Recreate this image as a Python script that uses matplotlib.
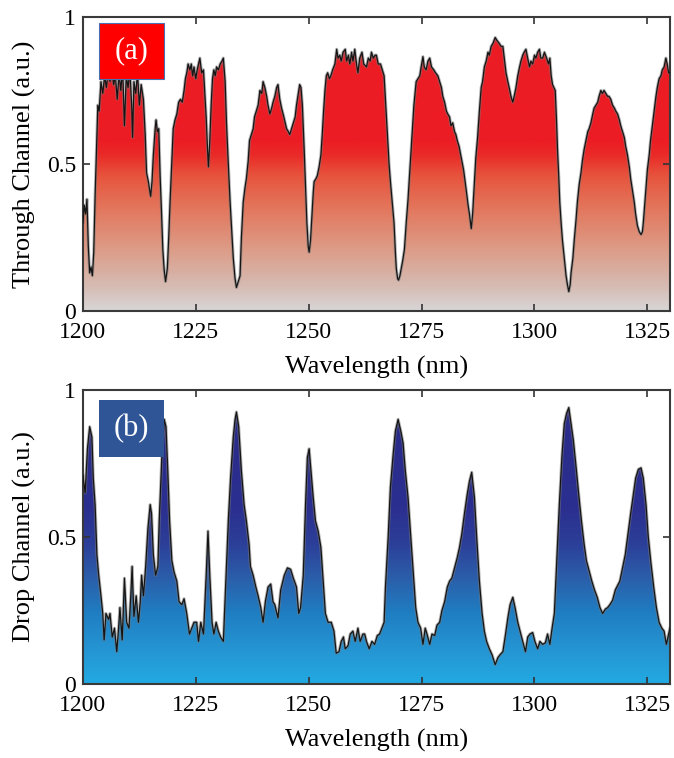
import numpy as np
import matplotlib
matplotlib.use("Agg")
import matplotlib.pyplot as plt
from matplotlib.colors import LinearSegmentedColormap
from matplotlib.patches import PathPatch, Rectangle

plt.rcParams['font.family'] = ['Liberation Serif', 'DejaVu Serif']

# ---- Through channel spectrum ----
wl_through = [
    1200.0, 1200.3, 1200.6, 1200.9, 1201.2, 1201.5, 1201.8, 1202.1, 1202.4, 1202.7,
    1203.0, 1203.3, 1203.6, 1204.0, 1204.4, 1204.8, 1205.2, 1205.6, 1206.0, 1206.4,
    1206.8, 1207.2, 1207.6, 1208.0, 1208.4, 1208.8, 1209.2, 1209.6, 1210.0, 1210.4,
    1210.8, 1211.0, 1211.3, 1211.7, 1212.1, 1212.5, 1212.9, 1213.4, 1213.8, 1214.1,
    1214.5, 1215.0, 1215.3, 1215.6, 1216.0, 1216.2, 1216.5, 1216.8, 1217.1, 1217.4,
    1217.7, 1218.0, 1218.3, 1218.7, 1219.0, 1219.3, 1219.6, 1220.0, 1220.4, 1220.8,
    1221.2, 1221.6, 1222.0, 1222.4, 1222.7, 1223.0, 1223.3, 1223.7, 1224.0, 1224.3,
    1224.6, 1225.0, 1225.3, 1225.6, 1225.9, 1226.3, 1226.7, 1227.0, 1227.3, 1227.6,
    1227.8, 1228.1, 1228.4, 1228.7, 1229.0, 1229.3, 1229.6, 1230.0, 1230.4, 1230.8,
    1231.1, 1231.5, 1231.8, 1232.2, 1232.6, 1233.0, 1233.3, 1233.7, 1234.0, 1234.4,
    1234.8, 1235.1, 1235.5, 1235.9, 1236.2, 1236.6, 1236.9, 1237.3, 1237.7, 1238.0,
    1238.4, 1238.8, 1239.2, 1239.6, 1239.9, 1240.3, 1240.7, 1241.0, 1241.4, 1241.8,
    1242.1, 1242.5, 1242.9, 1243.2, 1243.6, 1244.0, 1244.5, 1245.1, 1245.5, 1245.8,
    1246.2, 1246.6, 1247.0, 1247.3, 1247.7, 1248.0, 1248.3, 1248.6, 1249.0, 1249.3,
    1249.6, 1249.9, 1250.1, 1250.4, 1250.7, 1251.0, 1251.2, 1251.6, 1251.9, 1252.3,
    1252.7, 1253.0, 1253.3, 1253.6, 1253.9, 1254.2, 1254.6, 1254.9, 1255.3, 1255.8,
    1256.2, 1256.5, 1256.9, 1257.2, 1257.6, 1258.1, 1258.4, 1258.8, 1259.1, 1259.5,
    1259.8, 1260.2, 1260.6, 1260.9, 1261.3, 1261.8, 1262.2, 1262.8, 1263.2, 1263.6,
    1263.9, 1264.3, 1264.7, 1265.0, 1265.4, 1265.9, 1266.3, 1266.7, 1267.0, 1267.4,
    1267.8, 1268.1, 1268.5, 1268.9, 1269.2, 1269.4, 1269.7, 1269.9, 1270.2, 1270.5,
    1270.8, 1271.2, 1271.6, 1272.0, 1272.4, 1272.9, 1273.3, 1273.8, 1274.2, 1274.6,
    1274.9, 1275.3, 1275.6, 1276.0, 1276.4, 1276.8, 1277.2, 1277.7, 1278.1, 1278.6,
    1279.0, 1279.4, 1279.7, 1280.1, 1280.5, 1280.8, 1281.2, 1281.5, 1281.9, 1282.3,
    1282.6, 1282.9, 1283.3, 1283.8, 1284.3, 1284.9, 1285.3, 1285.6, 1286.0, 1286.3,
    1286.7, 1287.0, 1287.4, 1287.8, 1288.2, 1288.5, 1288.9, 1289.3, 1289.7, 1290.0,
    1290.4, 1290.8, 1291.3, 1291.7, 1292.2, 1292.6, 1293.0, 1293.4, 1293.7, 1294.1,
    1294.4, 1294.8, 1295.2, 1295.5, 1295.9, 1296.3, 1296.7, 1297.0, 1297.4, 1297.7,
    1298.1, 1298.5, 1298.9, 1299.2, 1299.6, 1300.0, 1300.3, 1300.7, 1301.1, 1301.4,
    1301.8, 1302.2, 1302.7, 1303.1, 1303.4, 1303.7, 1304.0, 1304.3, 1304.6, 1304.9,
    1305.1, 1305.4, 1305.6, 1305.9, 1306.2, 1306.6, 1307.0, 1307.3, 1307.6, 1307.9,
    1308.1, 1308.5, 1308.8, 1309.2, 1309.5, 1309.9, 1310.3, 1310.6, 1311.0, 1311.4,
    1311.8, 1312.1, 1312.5, 1312.9, 1313.2, 1313.6, 1314.0, 1314.3, 1314.7, 1315.0,
    1315.4, 1315.8, 1316.2, 1316.5, 1316.9, 1317.3, 1317.7, 1318.0, 1318.4, 1318.8,
    1319.1, 1319.5, 1319.9, 1320.2, 1320.6, 1321.0, 1321.3, 1321.7, 1322.1, 1322.4,
    1322.8, 1323.2, 1323.6, 1323.9, 1324.1, 1324.4, 1324.7, 1325.0, 1325.4, 1325.7,
    1326.1, 1326.5, 1326.9, 1327.2, 1327.6, 1328.0, 1328.3, 1328.7, 1329.1, 1329.4,
    1329.7, 1330.0,
]
through = [
    0.30, 0.36, 0.33, 0.38, 0.22, 0.13, 0.15, 0.12, 0.20, 0.39,
    0.55, 0.70, 0.68, 0.78, 0.74, 0.80, 0.76, 0.82, 0.78, 0.84,
    0.77, 0.80, 0.72, 0.81, 0.75, 0.83, 0.63, 0.80, 0.76, 0.82,
    0.70, 0.59, 0.78, 0.74, 0.81, 0.70, 0.77, 0.72, 0.60, 0.47,
    0.44, 0.39, 0.44, 0.53, 0.62, 0.65, 0.61, 0.62, 0.46, 0.34,
    0.21, 0.14, 0.10, 0.145, 0.25, 0.37, 0.48, 0.62, 0.65, 0.67,
    0.71, 0.72, 0.71, 0.75, 0.79, 0.81, 0.84, 0.82, 0.84, 0.80,
    0.83, 0.79, 0.82, 0.84, 0.86, 0.81, 0.82, 0.74, 0.66, 0.55,
    0.49, 0.58, 0.70, 0.79, 0.82, 0.80, 0.83, 0.82, 0.84, 0.85,
    0.86, 0.78, 0.64, 0.50, 0.37, 0.26, 0.18, 0.11, 0.08, 0.10,
    0.12, 0.25, 0.37, 0.42, 0.45, 0.51, 0.58, 0.60, 0.62, 0.66,
    0.68, 0.70, 0.75, 0.74, 0.78, 0.76, 0.73, 0.70, 0.67, 0.69,
    0.71, 0.73, 0.76, 0.77, 0.72, 0.69, 0.66, 0.62, 0.61, 0.60,
    0.62, 0.64, 0.66, 0.70, 0.74, 0.77, 0.76, 0.70, 0.55, 0.42,
    0.30, 0.22, 0.20, 0.24, 0.32, 0.40, 0.44, 0.45, 0.46, 0.49,
    0.53, 0.60, 0.68, 0.75, 0.80, 0.81, 0.79, 0.80, 0.82, 0.84,
    0.89, 0.86, 0.87, 0.85, 0.88, 0.89, 0.85, 0.87, 0.84, 0.88,
    0.85, 0.89, 0.84, 0.81, 0.86, 0.88, 0.84, 0.83, 0.86, 0.85,
    0.88, 0.86, 0.87, 0.87, 0.84, 0.84, 0.82, 0.80, 0.72, 0.61,
    0.50, 0.44, 0.37, 0.30, 0.20, 0.145, 0.11, 0.105, 0.12, 0.145,
    0.17, 0.21, 0.30, 0.38, 0.48, 0.61, 0.70, 0.78, 0.79, 0.80,
    0.83, 0.865, 0.83, 0.82, 0.85, 0.86, 0.83, 0.82, 0.81, 0.80,
    0.78, 0.76, 0.73, 0.71, 0.68, 0.67, 0.66, 0.63, 0.64, 0.61,
    0.60, 0.58, 0.56, 0.52, 0.48, 0.41, 0.36, 0.33, 0.28, 0.33,
    0.44, 0.52, 0.59, 0.68, 0.76, 0.78, 0.83, 0.85, 0.88, 0.87,
    0.90, 0.91, 0.93, 0.92, 0.91, 0.90, 0.90, 0.85, 0.81, 0.78,
    0.76, 0.73, 0.71, 0.73, 0.76, 0.80, 0.83, 0.85, 0.87, 0.88,
    0.89, 0.86, 0.83, 0.85, 0.84, 0.87, 0.86, 0.88, 0.89, 0.86,
    0.86, 0.88, 0.86, 0.84, 0.86, 0.80, 0.77, 0.76, 0.75, 0.64,
    0.55, 0.45, 0.37, 0.30, 0.24, 0.18, 0.12, 0.09, 0.066, 0.09,
    0.13, 0.18, 0.24, 0.31, 0.37, 0.43, 0.47, 0.51, 0.55, 0.58,
    0.61, 0.62, 0.64, 0.67, 0.69, 0.70, 0.71, 0.73, 0.75, 0.74,
    0.75, 0.74, 0.73, 0.73, 0.72, 0.70, 0.69, 0.68, 0.67, 0.65,
    0.63, 0.61, 0.59, 0.56, 0.53, 0.49, 0.45, 0.41, 0.37, 0.33,
    0.29, 0.27, 0.26, 0.27, 0.30, 0.36, 0.42, 0.48, 0.53, 0.58,
    0.63, 0.68, 0.73, 0.76, 0.79, 0.80, 0.82, 0.83, 0.86, 0.84,
    0.81, 0.81,
]

# ---- Drop channel spectrum ----
wl_drop = [
    1200.0, 1200.5, 1201.0, 1201.5, 1202.0, 1202.3, 1202.7, 1203.1, 1203.5, 1204.0,
    1204.4, 1204.7, 1205.1, 1205.7, 1206.0, 1206.5, 1207.0, 1207.5, 1207.9, 1208.2,
    1208.7, 1209.2, 1209.7, 1210.2, 1210.6, 1210.9, 1211.3, 1211.8, 1212.3, 1212.7,
    1213.0, 1213.4, 1213.9, 1214.4, 1214.9, 1215.2, 1215.6, 1216.1, 1216.6, 1216.9,
    1217.5, 1218.0, 1218.4, 1218.8, 1219.2, 1219.7, 1220.2, 1220.8, 1221.3, 1221.9,
    1222.4, 1223.0, 1223.6, 1224.1, 1224.6, 1225.2, 1225.6, 1226.1, 1226.7, 1227.3,
    1227.7, 1228.1, 1228.6, 1229.0, 1229.5, 1230.0, 1230.5, 1231.1, 1231.6, 1232.2,
    1232.7, 1233.3, 1233.7, 1234.0, 1234.5, 1235.1, 1235.7, 1236.2, 1236.8, 1237.1,
    1237.7, 1238.3, 1238.8, 1239.4, 1239.9, 1240.4, 1241.0, 1241.6, 1242.1, 1242.5,
    1243.2, 1243.8, 1244.6, 1245.3, 1246.0, 1246.6, 1247.3, 1247.8, 1248.2, 1248.8,
    1249.3, 1249.7, 1250.1, 1250.5, 1251.0, 1251.5, 1252.1, 1252.7, 1253.2, 1253.7,
    1254.3, 1255.0, 1255.6, 1256.1, 1256.7, 1257.2, 1257.7, 1258.1, 1258.7, 1259.2,
    1259.8, 1260.3, 1260.9, 1261.4, 1262.0, 1262.4, 1262.8, 1263.4, 1264.0, 1264.6,
    1265.2, 1265.7, 1266.2, 1266.7, 1267.0, 1267.6, 1268.1, 1268.7, 1269.2, 1269.8,
    1270.4, 1270.9, 1271.4, 1272.0, 1272.6, 1273.2, 1273.7, 1274.2, 1274.8, 1275.3,
    1275.8, 1276.2, 1276.8, 1277.3, 1277.9, 1278.4, 1279.0, 1279.5, 1280.1, 1280.7,
    1281.2, 1281.7, 1282.3, 1282.9, 1283.4, 1283.9, 1284.5, 1285.1, 1285.6, 1286.1,
    1286.7, 1287.2, 1287.8, 1288.4, 1288.9, 1289.4, 1290.0, 1290.6, 1291.3, 1291.9,
    1292.4, 1293.0, 1293.6, 1294.1, 1294.6, 1295.2, 1295.7, 1296.3, 1296.8, 1297.4,
    1298.0, 1298.5, 1299.0, 1299.6, 1300.1, 1300.7, 1301.2, 1301.8, 1302.4, 1302.9,
    1303.4, 1303.9, 1304.4, 1304.9, 1305.5, 1306.1, 1306.6, 1307.1, 1307.6, 1308.1,
    1308.6, 1309.2, 1309.8, 1310.4, 1311.0, 1311.5, 1312.1, 1312.7, 1313.3, 1313.9,
    1314.5, 1315.1, 1315.7, 1316.2, 1316.7, 1317.3, 1317.9, 1318.4, 1318.9, 1319.5,
    1320.1, 1320.7, 1321.3, 1321.9, 1322.4, 1323.0, 1323.6, 1324.1, 1324.7, 1325.2,
    1325.8, 1326.4, 1327.0, 1327.6, 1328.2, 1328.7, 1329.2, 1329.7, 1330.0,
]
drop = [
    0.71, 0.65, 0.80, 0.875, 0.84, 0.70, 0.61, 0.44, 0.37, 0.30,
    0.24, 0.15, 0.24, 0.22, 0.24, 0.16, 0.19, 0.11, 0.19, 0.26,
    0.15, 0.36, 0.21, 0.19, 0.30, 0.40, 0.23, 0.30, 0.21, 0.28,
    0.37, 0.30, 0.40, 0.53, 0.61, 0.58, 0.44, 0.37, 0.40, 0.555,
    0.78, 0.90, 0.875, 0.725, 0.555, 0.42, 0.38, 0.35, 0.28, 0.27,
    0.29, 0.24, 0.17, 0.19, 0.21, 0.21, 0.145, 0.21, 0.17, 0.37,
    0.52, 0.37, 0.21, 0.17, 0.21, 0.18, 0.16, 0.145, 0.33, 0.555,
    0.70, 0.84, 0.90, 0.925, 0.875, 0.725, 0.61, 0.555, 0.475, 0.40,
    0.37, 0.33, 0.30, 0.26, 0.21, 0.28, 0.33, 0.34, 0.28, 0.27,
    0.225, 0.32, 0.37, 0.395, 0.39, 0.36, 0.33, 0.24, 0.26, 0.37,
    0.61, 0.77, 0.80, 0.725, 0.635, 0.555, 0.52, 0.465, 0.35, 0.24,
    0.21, 0.21, 0.18, 0.105, 0.11, 0.145, 0.16, 0.12, 0.13, 0.17,
    0.18, 0.145, 0.19, 0.145, 0.17, 0.17, 0.145, 0.12, 0.145, 0.135,
    0.165, 0.17, 0.19, 0.21, 0.33, 0.50, 0.67, 0.78, 0.86, 0.90,
    0.86, 0.82, 0.725, 0.635, 0.50, 0.37, 0.26, 0.21, 0.19, 0.135,
    0.19, 0.17, 0.135, 0.17, 0.165, 0.20, 0.21, 0.25, 0.28, 0.33,
    0.35, 0.36, 0.395, 0.43, 0.465, 0.51, 0.58, 0.645, 0.69, 0.72,
    0.635, 0.50, 0.35, 0.24, 0.18, 0.145, 0.12, 0.10, 0.066, 0.09,
    0.10, 0.11, 0.17, 0.225, 0.27, 0.295, 0.26, 0.21, 0.18, 0.145,
    0.11, 0.16, 0.17, 0.175, 0.145, 0.12, 0.145, 0.135, 0.14, 0.17,
    0.135, 0.19, 0.24, 0.41, 0.61, 0.78, 0.885, 0.92, 0.94, 0.885,
    0.83, 0.74, 0.645, 0.555, 0.475, 0.42, 0.385, 0.35, 0.32, 0.295,
    0.26, 0.24, 0.255, 0.26, 0.27, 0.285, 0.32, 0.335, 0.35, 0.395,
    0.44, 0.51, 0.58, 0.645, 0.70, 0.73, 0.735, 0.70, 0.61, 0.50,
    0.41, 0.33, 0.26, 0.21, 0.19, 0.18, 0.135, 0.17, 0.19,
]

x_ticks = [1200, 1225, 1250, 1275, 1300, 1325]
y_ticks = [0, 0.5, 1]
y_tick_labels = ['0', '0.5', '1']

red_cmap = LinearSegmentedColormap.from_list('through_fill', [
    (0.00, '#d8d6d6'),
    (0.08, '#d6bcb4'),
    (0.20, '#dc9e8a'),
    (0.35, '#e3765c'),
    (0.46, '#e7533c'),
    (0.53, '#ea2a28'),
    (0.58, '#ec1c24'),
    (1.00, '#ec1c24'),
])
blue_cmap = LinearSegmentedColormap.from_list('drop_fill', [
    (0.00, '#22aae2'),
    (0.12, '#2594d2'),
    (0.24, '#1f7ec2'),
    (0.36, '#2b5eaa'),
    (0.48, '#2c3e98'),
    (0.60, '#2b2f8f'),
    (1.00, '#2a2a88'),
])

fig = plt.figure(figsize=(6.74, 7.58), dpi=100)
ax_top = fig.add_axes([0.123, 0.5897, 0.871, 0.388])
ax_bot = fig.add_axes([0.123, 0.0976, 0.871, 0.388])


def gradient_area(ax, x, y, cmap):
    x = np.asarray(x)
    y = np.asarray(y)
    poly = ax.fill_between(x, y, 0, facecolor='none', edgecolor='none')
    path = poly.get_paths()[0]
    patch = PathPatch(path, facecolor='none', edgecolor='none',
                      transform=ax.transData)
    ax.add_patch(patch)
    grad = np.linspace(0, 1, 512).reshape(-1, 1)
    im = ax.imshow(grad, extent=[1200, 1330, 0, 1], origin='lower',
                   aspect='auto', cmap=cmap, vmin=0, vmax=1,
                   interpolation='bilinear', zorder=1)
    im.set_clip_path(patch)
    ax.plot(x, y, color='#777777', lw=2.2, alpha=0.55, zorder=2)
    ax.plot(x, y, color='#151515', lw=0.9, zorder=3)


def style_axes(ax, ylabel):
    ax.set_xlim(1200, 1330)
    ax.set_ylim(0, 1)
    ax.set_xticks(x_ticks)
    ax.set_xticklabels([str(t) for t in x_ticks])
    ax.set_yticks(y_ticks)
    ax.set_yticklabels(y_tick_labels)
    ax.tick_params(direction='in', length=5, width=1.2, top=True, right=True,
                   labelsize=17, color='#333333')
    ax.tick_params(axis='x', pad=8)
    ax.tick_params(axis='y', pad=5)
    for s in ax.spines.values():
        s.set_linewidth(1.5)
        s.set_color('#3a3a3a')
    ax.set_xlabel('Wavelength (nm)', fontsize=19, labelpad=9)
    ax.set_ylabel(ylabel, fontsize=19, labelpad=8)


gradient_area(ax_top, wl_through, through, red_cmap)
gradient_area(ax_bot, wl_drop, drop, blue_cmap)
style_axes(ax_top, 'Through Channel (a.u.)')
style_axes(ax_bot, 'Drop Channel (a.u.)')

# panel tags
ax_top.add_patch(Rectangle((0.027, 0.789), 0.111, 0.191, transform=ax_top.transAxes,
                           facecolor='#ff0000', edgecolor='#4a6fb5', lw=0.8, zorder=5))
ax_top.text(0.0825, 0.8845, '(a)', transform=ax_top.transAxes, color='white',
            fontsize=22, ha='center', va='center', zorder=6)
ax_bot.add_patch(Rectangle((0.027, 0.771), 0.111, 0.195, transform=ax_bot.transAxes,
                           facecolor='#2f5597', edgecolor='none', zorder=5))
ax_bot.text(0.0825, 0.8685, '(b)', transform=ax_bot.transAxes, color='white',
            fontsize=22, ha='center', va='center', zorder=6)

fig.savefig('out.png', dpi=100)
